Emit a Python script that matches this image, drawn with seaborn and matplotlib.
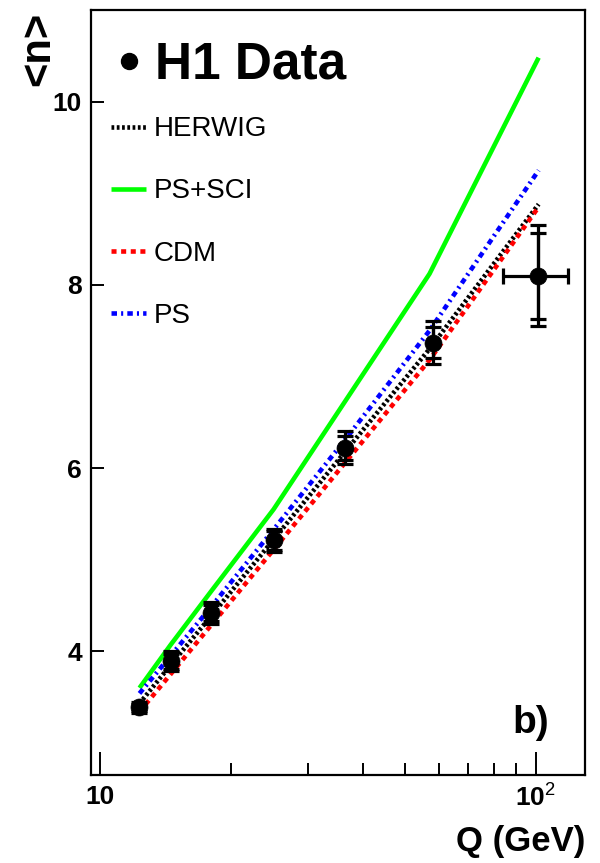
import matplotlib
matplotlib.use("Agg")
import matplotlib.pyplot as plt
import numpy as np
import pandas as pd
import seaborn as sns
from matplotlib.lines import Line2D
from matplotlib.ticker import FixedLocator, FixedFormatter, NullFormatter

# H1 mean charged multiplicity vs Q
q_data = [12.3, 14.5, 18.0, 25.0, 36.5, 58.2, 101.2]
n_mean = [3.39, 3.89, 4.42, 5.21, 6.22, 7.37, 8.10]
n_err_stat = [0.04, 0.08, 0.09, 0.10, 0.13, 0.17, 0.47]
n_err_tot = [0.06, 0.11, 0.12, 0.13, 0.18, 0.23, 0.55]
q_err_lo = [0.0, 0.0, 0.0, 0.0, 0.0, 0.0, 17.0]
q_err_hi = [0.0, 0.0, 0.0, 0.0, 0.0, 0.0, 17.5]

# Monte Carlo predictions
q_model = [12.3, 14.5, 18.0, 25.0, 36.5, 57.0, 101.5]
n_herwig = [3.43, 3.85, 4.39, 5.22, 6.18, 7.30, 8.88]
n_ps_sci = [3.60, 4.07, 4.66, 5.55, 6.73, 8.12, 10.48]
n_cdm = [3.34, 3.75, 4.29, 5.11, 6.06, 7.18, 8.85]
n_ps = [3.54, 3.95, 4.49, 5.33, 6.31, 7.50, 9.25]

model_names = ["HERWIG", "PS+SCI", "CDM", "PS"]
model_values = [n_herwig, n_ps_sci, n_cdm, n_ps]

y_ticks = [4, 6, 8, 10]
x_major = [10, 100]
x_major_labels = ["10", r"$\mathbf{10}^{\mathrm{2}}$"]
x_minor = [20, 30, 40, 50, 60, 70, 80, 90]

line_styles = {
    "HERWIG": dict(color="black", linestyle=(0, (0.6, 0.55))),
    "PS+SCI": dict(color="#00ff00", linestyle="-"),
    "CDM": dict(color="#ff0000", linestyle=(0, (1.1, 1.0))),
    "PS": dict(color="#0000ff", linestyle=(0, (1.2, 0.9, 0.45, 0.9))),
}

sns.set_style("white")
plt.rcParams["font.family"] = ["Liberation Sans", "DejaVu Sans"]
plt.rcParams["mathtext.fontset"] = "custom"
plt.rcParams["mathtext.rm"] = "Liberation Sans"
plt.rcParams["mathtext.bf"] = "Liberation Sans:bold"
plt.rcParams["mathtext.it"] = "Liberation Sans:italic"
for key in ["text.color", "axes.labelcolor", "xtick.color", "ytick.color",
            "axes.edgecolor"]:
    plt.rcParams[key] = "black"

fig = plt.figure(figsize=(6.0, 8.63), dpi=100)
ax = fig.add_axes([0.1517, 0.1020, 0.8233, 0.8864])
ax.set_xscale("log")

# model curves
handles = []
for name, vals in zip(model_names, model_values):
    df = pd.DataFrame({"Q": q_model, "n": vals})
    st = line_styles[name]
    sns.lineplot(data=df, x="Q", y="n", ax=ax, color=st["color"],
                 linestyle=st["linestyle"], linewidth=3.3,
                 solid_capstyle="butt", dash_capstyle="butt",
                 estimator=None, sort=False, zorder=2, legend=False)
    handles.append(Line2D([], [], color=st["color"], linestyle=st["linestyle"],
                          linewidth=3.3, dash_capstyle="butt",
                          solid_capstyle="butt", label=name))

# data points with total and statistical error bars
ax.errorbar(q_data, n_mean, yerr=n_err_tot, xerr=[q_err_lo, q_err_hi],
            fmt="none", ecolor="black", elinewidth=2.3, capsize=6,
            capthick=2.3, zorder=4)
ax.errorbar(q_data, n_mean, yerr=n_err_stat, fmt="none", ecolor="black",
            elinewidth=2.3, capsize=6, capthick=2.3, zorder=4)
sns.scatterplot(x=q_data, y=n_mean, s=150, color="black", edgecolor="black",
                linewidth=0.5, zorder=5, ax=ax, legend=False)

ax.set_xlim(9.52, 129.7)
ax.set_ylim(2.65, 11.0)

ax.xaxis.set_major_locator(FixedLocator(x_major))
ax.xaxis.set_major_formatter(FixedFormatter(x_major_labels))
ax.xaxis.set_minor_locator(FixedLocator(x_minor))
ax.xaxis.set_minor_formatter(NullFormatter())
ax.yaxis.set_major_locator(FixedLocator(y_ticks))
ax.yaxis.set_minor_locator(FixedLocator([]))

ax.tick_params(axis="x", which="major", direction="in", length=16.5, width=1.4,
               labelsize=19, pad=7, top=False, bottom=True)
ax.tick_params(axis="x", which="minor", direction="in", length=8.6, width=1.4,
               top=False, bottom=True)
ax.tick_params(axis="y", which="major", direction="in", length=9.4, width=1.4,
               labelsize=19, pad=6.5, right=False, left=True)
for lab in ax.get_xticklabels() + ax.get_yticklabels():
    lab.set_fontweight("bold")

for sp in ax.spines.values():
    sp.set_linewidth(1.6)
    sp.set_color("black")

ax.set_xlabel("Q (GeV)", fontsize=25, fontweight="bold", ha="right")
ax.xaxis.set_label_coords(1.0, -0.0660)
ax.set_ylabel("<n>", fontsize=30, fontweight="bold")
ax.yaxis.set_label_coords(-0.066, 0.9497)

ax.text(0.927, 0.068, "b)", transform=ax.transAxes, fontsize=28,
        fontweight="bold", ha="right", va="center")

data_handle = Line2D([], [], marker="o", color="black", linestyle="none",
                     markersize=11.5, label="H1 Data")
leg1 = ax.legend(handles=[data_handle], loc="upper left",
                 bbox_to_anchor=(0.0466, 0.960), frameon=False,
                 prop=dict(weight="bold", size=37), handlelength=0.6,
                 handletextpad=0.2, borderpad=0, borderaxespad=0)
ax.add_artist(leg1)
ax.legend(handles=handles, loc="upper left", bbox_to_anchor=(0.0405, 0.861),
          frameon=False, prop=dict(size=20), handlelength=1.26,
          handletextpad=0.29, labelspacing=1.30, borderpad=0,
          borderaxespad=0)

fig.savefig("out.png", dpi=100)
